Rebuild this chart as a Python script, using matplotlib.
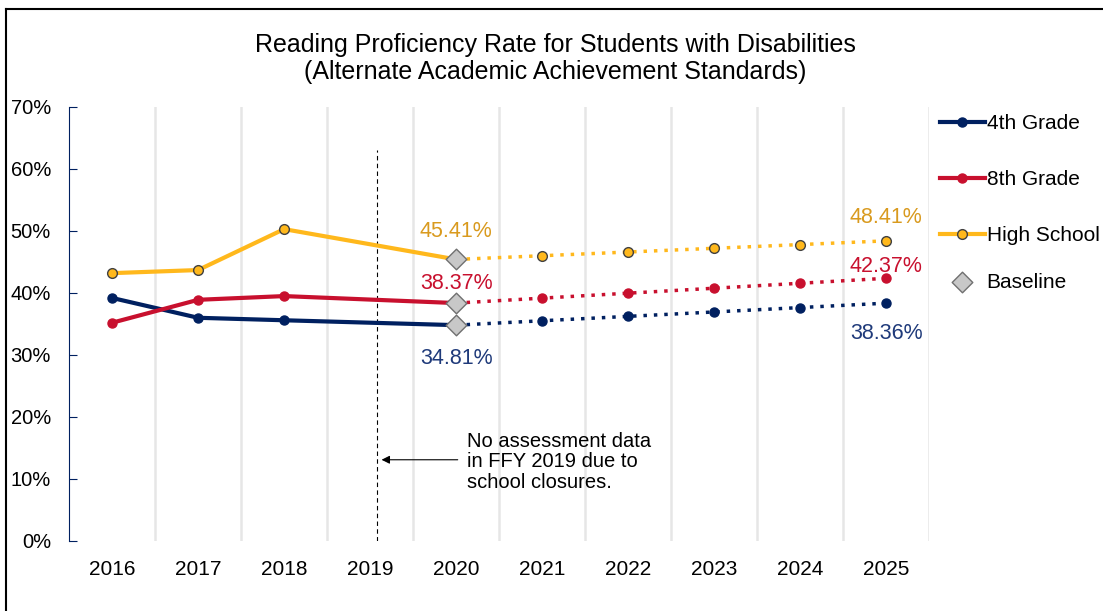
import matplotlib.pyplot as plt
import numpy as np

plt.rcParams['font.family'] = ['Liberation Sans', 'DejaVu Sans']

# Data
years = ['2016', '2017', '2018', '2019', '2020', '2021', '2022', '2023', '2024', '2025']
actual_idx = [0, 1, 2, 4]          # 2019 missing
target_idx = [4, 5, 6, 7, 8, 9]

grade4_actual = [39.2, 36.0, 35.6, 34.81]
grade8_actual = [35.2, 38.9, 39.5, 38.37]
hs_actual = [43.2, 43.7, 50.3, 45.41]

grade4_target = [34.81, 35.52, 36.23, 36.94, 37.65, 38.36]
grade8_target = [38.37, 39.17, 39.97, 40.77, 41.57, 42.37]
hs_target = [45.41, 46.01, 46.61, 47.21, 47.81, 48.41]

navy = '#002060'
red = '#C8102E'
gold = '#FFB81C'

fig = plt.figure(figsize=(11.03, 6.11), dpi=100)
ax = fig.add_axes([0.0626, 0.1146, 0.78, 0.7103])

x = np.arange(len(years))

# solid actual lines
ax.plot(x[actual_idx], grade4_actual, color=navy, lw=3, marker='o', ms=6.5, zorder=3)
ax.plot(x[actual_idx], grade8_actual, color=red, lw=3, marker='o', ms=6.5, zorder=3)
ax.plot(x[actual_idx], hs_actual, color=gold, lw=3, marker='o', ms=7,
        markeredgecolor='#404040', markeredgewidth=1, zorder=3)

# dotted target lines
ax.plot(x[target_idx], grade4_target, color=navy, lw=2.5, ls=(0, (1, 2)), marker='o', ms=6.5, zorder=3)
ax.plot(x[target_idx], grade8_target, color=red, lw=2.5, ls=(0, (1, 2)), marker='o', ms=6.5, zorder=3)
ax.plot(x[target_idx], hs_target, color=gold, lw=2.5, ls=(0, (1, 2)), marker='o', ms=7,
        markeredgecolor='#404040', markeredgewidth=1, zorder=3)

# baseline diamonds
ax.scatter([4, 4, 4], [grade4_actual[-1], grade8_actual[-1], hs_actual[-1]], marker='D', s=110,
           color='#C8C8C8', edgecolor='#707070', linewidth=1, zorder=4)

# data labels
lab_kw = dict(ha='center', va='center', fontsize=15.5)
ax.text(4, 49.9, f'{hs_actual[-1]:.2f}%', color='#D99A1E', **lab_kw)
ax.text(4, 41.5, f'{grade8_actual[-1]:.2f}%', color=red, **lab_kw)
ax.text(4, 29.5, f'{grade4_actual[-1]:.2f}%', color='#1F3A7A', **lab_kw)
ax.text(9, 52.2, f'{hs_target[-1]:.2f}%', color='#D99A1E', **lab_kw)
ax.text(9, 44.2, f'{grade8_target[-1]:.2f}%', color=red, **lab_kw)
ax.text(9, 33.4, f'{grade4_target[-1]:.2f}%', color='#1F3A7A', **lab_kw)

# dashed line for 2019 and annotation
ax.plot([3.08, 3.08], [0, 63.1], color='black', lw=0.8, ls=(0, (4, 3)), zorder=2)
ax.annotate('', xy=(3.1, 13.1), xytext=(4.05, 13.1),
            arrowprops=dict(arrowstyle='-|>', color='black', lw=0.8, mutation_scale=12))
ax.text(4.12, 12.8, 'No assessment data\nin FFY 2019 due to\nschool closures.',
        ha='left', va='center', fontsize=14.5, linespacing=1.1)

# axes
ax.set_xlim(-0.5, 9.5)
ax.set_ylim(0, 70)
ax.set_xticks(x)
ax.set_xticklabels(years, fontsize=15)
ax.set_xticks(np.arange(0.5, 10, 1), minor=True)
ax.grid(axis='x', which='minor', color='#E6E6E6', lw=1.8)
ax.tick_params(axis='x', which='both', length=0, pad=14)
ax.set_yticks(np.arange(0, 71, 10))
ax.set_yticklabels([f'{v}%' for v in range(0, 71, 10)], fontsize=14.5)
ax.tick_params(axis='y', direction='in', length=6, color=navy, pad=13)
for s in ['top', 'right', 'bottom']:
    ax.spines[s].set_visible(False)
ax.spines['left'].set_color(navy)

ax.set_title('Reading Proficiency Rate for Students with Disabilities\n'
             '(Alternate Academic Achievement Standards)', fontsize=18, pad=20,
             linespacing=1.15, x=0.565)

# legend
h1, = ax.plot([], [], color=navy, lw=3, marker='o', ms=6.5)
h2, = ax.plot([], [], color=red, lw=3, marker='o', ms=6.5)
h3, = ax.plot([], [], color=gold, lw=3, marker='o', ms=7, markeredgecolor='#404040')
h4 = ax.scatter([], [], marker='D', s=110, color='#C8C8C8', edgecolor='#707070')
leg_kw = dict(loc='upper left', frameon=False, fontsize=15, handlelength=2.15,
              handletextpad=0.1, borderpad=0, borderaxespad=0)
fig.legend([h1, h2, h3], ['4th Grade', '8th Grade', 'High School'],
           bbox_to_anchor=(0.852, 0.813), labelspacing=1.78, **leg_kw)
fig.legend([h4], ['Baseline'], bbox_to_anchor=(0.852, 0.554), **leg_kw)

# figure frame (top & left border)
fig.add_artist(plt.Line2D([0.0055, 1.0], [0.986, 0.986], color='black', lw=1.5, transform=fig.transFigure))
fig.add_artist(plt.Line2D([0.0055, 0.0055], [0.0, 0.986], color='black', lw=1.5, transform=fig.transFigure))

fig.savefig('out.png', dpi=100)
